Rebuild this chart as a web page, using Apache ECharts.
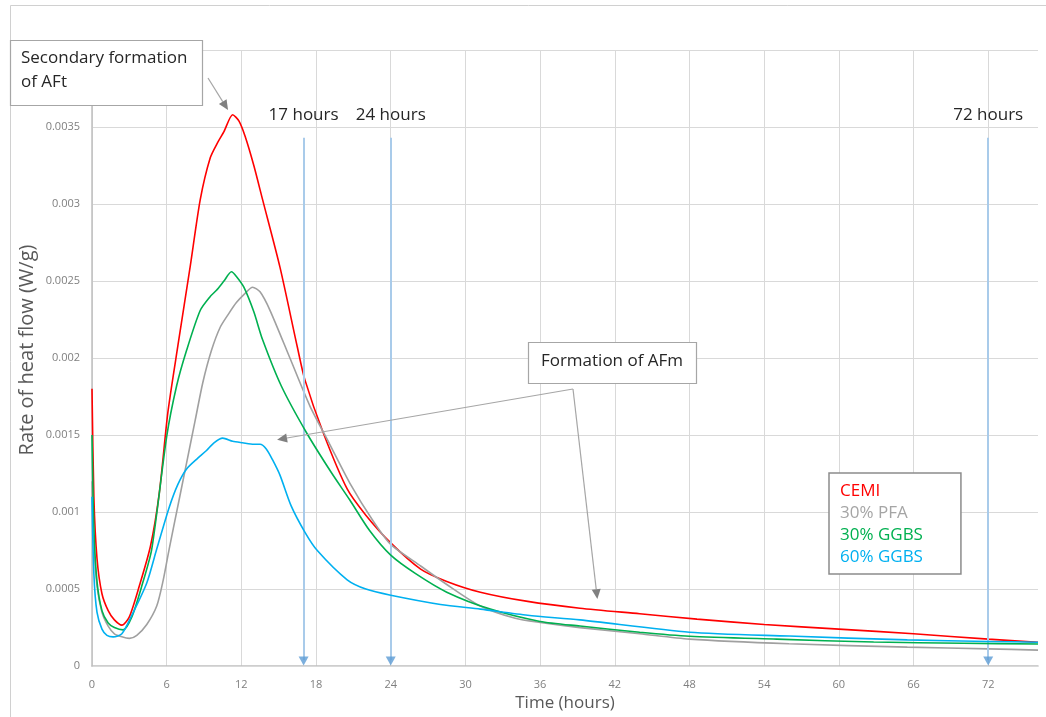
<!DOCTYPE html>
<html><head><meta charset="utf-8">
<script src="https://cdn.jsdelivr.net/npm/echarts@6/dist/echarts.min.js"></script>
<style>html,body{margin:0;padding:0;background:#fff}#c{width:1046px;height:717px}</style>
</head><body><div id="c"></div>
<script>
// ---- data ----
const seriesNames = ['CEMI', '30% PFA', '30% GGBS', '60% GGBS'];
const hoursCEMI = [0, 0.15, 0.4, 0.8, 1.3, 1.8, 2.4, 3.0, 3.8, 4.7, 5.4, 6.1, 6.9, 7.9, 8.7, 9.5, 10.1, 10.6, 11.3, 11.8, 12.3, 13.0, 13.7, 15.1, 16.5, 17.1, 18.6, 20.5, 22.0, 24, 26.4, 28.5, 31.2, 35, 39.2, 44, 48.6, 54, 60, 66, 72, 76];
const valuesCEMI = [0.0018, 0.0011, 0.0007, 0.00047, 0.00036, 0.0003, 0.000266, 0.00032, 0.00052, 0.00078, 0.00112, 0.00165, 0.00208, 0.0026, 0.00303, 0.0033, 0.0034, 0.00347, 0.00358, 0.00354, 0.00344, 0.00325, 0.00303, 0.00259, 0.00207, 0.00186, 0.00151, 0.00115, 0.00098, 0.0008, 0.00063, 0.00055, 0.00048, 0.00042, 0.000376, 0.00034, 0.000305, 0.00027, 0.00024, 0.00021, 0.000175, 0.000155];
const hoursPFA = [0, 0.15, 0.4, 0.8, 1.3, 1.8, 2.4, 3.0, 3.6, 4.4, 5.2, 5.7, 6.2, 7.0, 7.6, 8.3, 8.9, 9.6, 10.3, 11.0, 11.6, 12.3, 12.9, 13.5, 14.3, 15.9, 17.5, 19.1, 20.7, 22.6, 24, 26.4, 28.5, 31.2, 34, 36, 39.2, 44, 48, 56, 65.5, 72, 76];
const valuesPFA = [0.0012, 0.0008, 0.00052, 0.00035, 0.00026, 0.00021, 0.00019, 0.00018, 0.0002, 0.00027, 0.00039, 0.00055, 0.00076, 0.00108, 0.00132, 0.0016, 0.00184, 0.00205, 0.0022, 0.00229, 0.00236, 0.00242, 0.00246, 0.00243, 0.00231, 0.002, 0.00169, 0.00144, 0.00119, 0.00094, 0.00079, 0.00065, 0.00053, 0.00039, 0.00031, 0.000283, 0.00025, 0.00021, 0.000175, 0.000145, 0.000123, 0.000112, 0.000104];
const hoursGGBS30 = [0, 0.15, 0.4, 0.8, 1.3, 1.8, 2.5, 3.2, 4.0, 4.8, 6.0, 6.8, 7.6, 8.7, 9.5, 10.0, 10.6, 11.2, 11.6, 12.2, 13.0, 13.7, 15.2, 17.2, 19.2, 20.7, 22.3, 24, 26, 28.5, 32, 36, 39.2, 44, 48, 55, 62.8, 70, 76];
const valuesGGBS30 = [0.0015, 0.0009, 0.00055, 0.00036, 0.00028, 0.00025, 0.000235, 0.00032, 0.00052, 0.00076, 0.00149, 0.00182, 0.00205, 0.00231, 0.0024, 0.00244, 0.0025, 0.00256, 0.00253, 0.00246, 0.0023, 0.00212, 0.00182, 0.00152, 0.00126, 0.00108, 0.00088, 0.00072, 0.0006, 0.00048, 0.00037, 0.00029, 0.00026, 0.00022, 0.000194, 0.000175, 0.000156, 0.000148, 0.000143];
const hoursGGBS60 = [0, 0.15, 0.4, 0.8, 1.2, 1.7, 2.4, 3.2, 4.4, 5.2, 6.2, 6.9, 7.6, 8.5, 9.2, 9.8, 10.5, 11.3, 12.1, 13.0, 13.5, 14.0, 14.5, 15.1, 16.0, 17.1, 18.1, 20.5, 22, 24, 28, 31.2, 35, 39.2, 48, 56, 65.5, 72, 76];
const valuesGGBS60 = [0.0011, 0.0006, 0.00035, 0.00024, 0.0002, 0.00019, 0.00021, 0.00033, 0.00054, 0.00076, 0.00103, 0.00118, 0.00128, 0.00135, 0.0014, 0.00145, 0.00148, 0.00146, 0.00145, 0.00144, 0.00144, 0.00141, 0.00134, 0.00124, 0.00104, 0.00087, 0.00075, 0.00056, 0.0005, 0.00046, 0.0004, 0.00037, 0.00033, 0.0003, 0.00022, 0.000195, 0.00017, 0.00016, 0.000155];
const markerHours = [17, 24, 72];
const markerLabels = ['17 hours', '24 hours', '72 hours'];
const markerTop = 0.00343;
const xMax = 76, xLastTick = 72;

const colors = ['#ff0000', '#a0a0a0', '#00b050', '#00b0f0'];
const legendColors = ['#ff0000', '#a5a5a5', '#00b050', '#00b0f0'];
const FONT = 'Open Sans';

function zip(h, v) { return h.map((x, i) => [x, v[i]]); }
const seriesData = [zip(hoursCEMI, valuesCEMI), zip(hoursPFA, valuesPFA), zip(hoursGGBS30, valuesGGBS30), zip(hoursGGBS60, valuesGGBS60)];

const chart = echarts.init(document.getElementById('c'), null, {renderer: 'canvas'});

const series = seriesNames.map((n, i) => ({
  name: n, type: 'line', data: seriesData[i], showSymbol: false, smooth: 0.25,
  lineStyle: {color: colors[i], width: 1.6}, itemStyle: {color: colors[i]}, z: 3 + i
}));
series.push({
  name: 'markers', type: 'line', data: [], silent: true, z: 2,
  markLine: {
    silent: true, animation: false,
    symbol: ['none', 'none'],
    lineStyle: {color: '#a9cbea', width: 2, type: 'solid'},
    label: {show: false},
    data: markerHours.map(h => [{coord: [h, markerTop]}, {coord: [h, 0.00004]}])
  }
});
series.push({
  name: 'markerHeads', type: 'scatter', silent: true, z: 8,
  data: markerHours.map(h => [h, 0]),
  symbol: 'triangle', symbolRotate: 180, symbolSize: [10, 9], symbolOffset: [0, -5],
  itemStyle: {color: '#5b9bd5'}
});

const plotW = 1046 - 92 - 8;
chart.setOption({
  animation: false,
  backgroundColor: '#fff',
  grid: [
    {left: 92, right: 8, top: 50, bottom: 50},
    {left: 92, width: plotW * xLastTick / xMax, top: 50, bottom: 50}
  ],
  legend: {
    data: seriesNames.map((n, i) => ({name: n, textStyle: {color: legendColors[i]}})),
    orient: 'vertical', left: 829, top: 473,
    icon: 'none', itemWidth: 0, itemHeight: 19, itemGap: 4,
    padding: [9, 38, 8, 6],
    backgroundColor: '#fff', borderColor: '#8c8c8c', borderWidth: 1.5,
    textStyle: {fontFamily: FONT, fontSize: 17}, selectedMode: false
  },
  xAxis: [{
    type: 'value', min: 0, max: xMax, interval: 6, gridIndex: 0,
    name: 'Time (hours)', nameLocation: 'middle', nameGap: 27,
    nameTextStyle: {fontFamily: FONT, fontSize: 17, color: '#595959'},
    axisLine: {show: true, lineStyle: {color: '#bfbfbf', width: 1.5}},
    axisTick: {show: false},
    axisLabel: {fontFamily: FONT, fontSize: 11, color: '#7f7f7f', margin: 13,
      formatter: v => (v > xLastTick ? '' : String(v))},
    splitLine: {show: false}
  }, {
    // gridlines only, 0..72 every 6 hours
    type: 'value', min: 0, max: xLastTick, interval: 6, gridIndex: 1,
    axisLine: {show: false}, axisTick: {show: false}, axisLabel: {show: false},
    splitLine: {show: true, lineStyle: {color: '#d9d9d9', width: 1}}
  }],
  yAxis: [{
    type: 'value', min: 0, max: 0.004, interval: 0.0005, gridIndex: 0,
    axisLine: {show: true, lineStyle: {color: '#bfbfbf', width: 1.5}},
    axisTick: {show: false},
    axisLabel: {fontFamily: FONT, fontSize: 11, color: '#7f7f7f', margin: 12,
      formatter: v => (v === 0 ? '0' : String(+v.toFixed(4)))},
    splitLine: {show: true, lineStyle: {color: '#d9d9d9', width: 1}},
    z: 1
  }, {
    type: 'value', min: 0, max: 0.004, gridIndex: 1, show: false
  }],
  series: series
});

// ---- annotations (boxes are layout; arrow tips follow data coordinates) ----
function px(h, v) { return chart.convertToPixel({gridIndex: 0}, [h, v]); }
function arrow(x1, y1, x2, y2) {
  const a = Math.atan2(y2 - y1, x2 - x1), L = 10, W = 4.5;
  const bx = x2 - L * Math.cos(a), by = y2 - L * Math.sin(a);
  const ox = -Math.sin(a) * W, oy = Math.cos(a) * W;
  return [
    {type: 'line', z: 100, shape: {x1: x1, y1: y1, x2: bx, y2: by}, style: {stroke: '#a6a6a6', lineWidth: 1.2}},
    {type: 'polygon', z: 100, shape: {points: [[x2, y2], [bx + ox, by + oy], [bx - ox, by - oy]]}, style: {fill: '#808080'}}
  ];
}
const g = [];
// chart area border
g.push({type: 'rect', z: 0, shape: {x: 10.5, y: 5.5, width: 1100, height: 800}, style: {fill: 'none', stroke: '#d0d0d0', lineWidth: 1}});
// y axis title
g.push({type: 'text', z: 50, x: 27, y: 350, rotation: Math.PI / 2, style: {text: 'Rate of heat flow (W/g)', fontFamily: FONT, fontSize: 20, fill: '#595959', align: 'center', verticalAlign: 'middle'}});
// marker labels
markerHours.forEach((h, i) => {
  const p = px(h, markerTop);
  g.push({type: 'text', z: 100, x: p[0], y: p[1] - 23, style: {text: markerLabels[i], fontFamily: FONT, fontSize: 17, fill: '#262626', align: 'center', verticalAlign: 'middle'}});
});
// Secondary formation of AFt
g.push({type: 'rect', z: 100, shape: {x: 10.5, y: 40.5, width: 192, height: 65}, style: {fill: '#fff', stroke: '#a6a6a6', lineWidth: 1.2}});
g.push({type: 'text', z: 101, x: 21, y: 58, style: {text: 'Secondary formation', fontFamily: FONT, fontSize: 17, fill: '#262626', verticalAlign: 'middle'}});
g.push({type: 'text', z: 101, x: 21, y: 82, style: {text: 'of AFt', fontFamily: FONT, fontSize: 17, fill: '#262626', verticalAlign: 'middle'}});
const tAFt = px(10.93, 0.00361);
g.push(...arrow(208, 78, tAFt[0], tAFt[1]));
// Formation of AFm
g.push({type: 'rect', z: 100, shape: {x: 528.5, y: 342.5, width: 168, height: 41}, style: {fill: '#fff', stroke: '#a6a6a6', lineWidth: 1.2}});
g.push({type: 'text', z: 101, x: 612, y: 361, style: {text: 'Formation of AFm', fontFamily: FONT, fontSize: 17, fill: '#262626', align: 'center', verticalAlign: 'middle'}});
const tL = px(14.87, 0.00147), tR = px(40.6, 0.000435);
g.push(...arrow(573, 389, tL[0], tL[1]));
g.push(...arrow(573, 389, tR[0], tR[1]));
chart.setOption({graphic: {elements: g}});
</script></body></html>
